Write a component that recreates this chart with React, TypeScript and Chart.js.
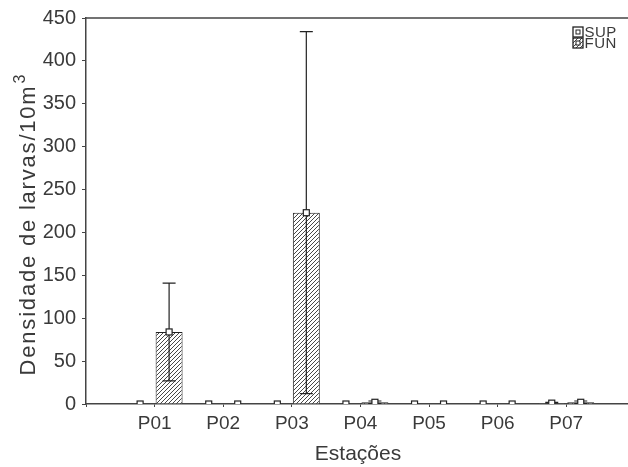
import { useEffect, useRef } from 'react';
import { Chart, registerables } from 'chart.js';

Chart.register(...registerables);

const stations = ['P01', 'P02', 'P03', 'P04', 'P05', 'P06', 'P07'];
const supMeans = [0, 0, 0, 0, 0, 0, 1];
const supErrors = [0, 0, 0, 0, 0, 0, 1];
const funMeans = [84, 0, 223, 2, 0, 0, 2];
const funErrors = [57, 0, 211, 1.5, 0, 0, 1.5];
const yMin = 0;
const yMax = 450;
const yStep = 50;
const seriesNames = ['SUP', 'FUN'];
const yTitle = 'Densidade de larvas/10m';
const yTitleSup = '3';
const xTitle = 'Estações';

const FONT = "'Liberation Sans', Arial, sans-serif";
const TEXT = '#3a3a3a';
const AXIS = '#444';

function makeHatch(): CanvasPattern | string {
  const s = 4;
  const c = document.createElement('canvas');
  c.width = s;
  c.height = s;
  const g = c.getContext('2d');
  if (!g) return '#bbb';
  g.fillStyle = '#fff';
  g.fillRect(0, 0, s, s);
  g.strokeStyle = '#333';
  g.lineWidth = 0.9;
  g.beginPath();
  g.moveTo(0, s);
  g.lineTo(s, 0);
  g.moveTo(-1, 1);
  g.lineTo(1, -1);
  g.moveTo(s - 1, s + 1);
  g.lineTo(s + 1, s - 1);
  g.stroke();
  return g.createPattern(c, 'repeat') || '#bbb';
}

export default function App() {
  const ref = useRef<HTMLCanvasElement>(null);

  useEffect(() => {
    const canvas = ref.current;
    if (!canvas) return;
    const hatch = makeHatch();

    const decor = {
      id: 'decor',
      afterDatasetsDraw(chart: any) {
        const { ctx, chartArea: ca, scales } = chart;
        const y = scales.y;
        ctx.save();
        ctx.beginPath();
        ctx.rect(ca.left, ca.top - 20, ca.right - ca.left, ca.bottom - ca.top + 20);
        ctx.clip();
        // error bars
        chart.data.datasets.forEach((ds: any, di: number) => {
          const meta = chart.getDatasetMeta(di);
          meta.data.forEach((bar: any, i: number) => {
            const m = ds.data[i].y;
            const e = ds.errors[i];
            if (!e) return;
            const yt = y.getPixelForValue(m + e);
            const yb = y.getPixelForValue(Math.max(0, m - e));
            const cw = 6.5;
            ctx.strokeStyle = '#222';
            ctx.lineWidth = 1.2;
            ctx.beginPath();
            ctx.moveTo(bar.x, yt);
            ctx.lineTo(bar.x, yb);
            ctx.moveTo(bar.x - cw, yt);
            ctx.lineTo(bar.x + cw, yt);
            ctx.moveTo(bar.x - cw, yb);
            ctx.lineTo(bar.x + cw, yb);
            ctx.stroke();
          });
        });
        // mean markers
        chart.data.datasets.forEach((_ds: any, di: number) => {
          const meta = chart.getDatasetMeta(di);
          meta.data.forEach((bar: any) => {
            const r = 3;
            ctx.fillStyle = '#fff';
            ctx.strokeStyle = '#222';
            ctx.lineWidth = 1.2;
            ctx.fillRect(bar.x - r, bar.y - r, 2 * r, 2 * r);
            ctx.strokeRect(bar.x - r, bar.y - r, 2 * r, 2 * r);
          });
        });
        ctx.restore();
      },
      afterDraw(chart: any) {
        const { ctx, chartArea: ca } = chart;
        ctx.save();
        // top frame
        ctx.strokeStyle = AXIS;
        ctx.lineWidth = 1.5;
        ctx.beginPath();
        ctx.moveTo(ca.left, ca.top);
        ctx.lineTo(ca.right + 2, ca.top);
        ctx.stroke();

        // legend
        const lx = 573;
        const rows = [27, 38];
        rows.forEach((ty, k) => {
          ctx.fillStyle = k === 0 ? '#fff' : hatch;
          ctx.fillRect(lx, ty, 10, 10);
          ctx.strokeStyle = '#222';
          ctx.lineWidth = 1.3;
          ctx.strokeRect(lx, ty, 10, 10);
          ctx.fillStyle = '#fff';
          ctx.fillRect(lx + 3, ty + 3, 4, 4);
          ctx.lineWidth = 1;
          ctx.strokeRect(lx + 3, ty + 3, 4, 4);
          ctx.fillStyle = TEXT;
          ctx.font = `15px ${FONT}`;
          (ctx as any).letterSpacing = '0.5px';
          ctx.textAlign = 'left';
          ctx.textBaseline = 'alphabetic';
          ctx.fillText(seriesNames[k], lx + 11.5, ty + 10);
        });
        (ctx as any).letterSpacing = '0px';

        // x title
        ctx.fillStyle = TEXT;
        ctx.font = `21px ${FONT}`;
        ctx.textAlign = 'center';
        ctx.textBaseline = 'alphabetic';
        ctx.fillText(xTitle, 358, 460);

        // y title
        (ctx as any).letterSpacing = '1.8px';
        ctx.font = `22px ${FONT}`;
        const w1 = ctx.measureText(yTitle).width;
        (ctx as any).letterSpacing = '0px';
        ctx.font = `16px ${FONT}`;
        const w2 = ctx.measureText(yTitleSup).width;
        const cy = (ca.top + ca.bottom) / 2 + 14;
        ctx.translate(35, cy);
        ctx.rotate(-Math.PI / 2);
        ctx.textAlign = 'left';
        const start = -(w1 + w2 + 1) / 2;
        (ctx as any).letterSpacing = '1.8px';
        ctx.font = `22px ${FONT}`;
        ctx.fillText(yTitle, start, 0);
        (ctx as any).letterSpacing = '0px';
        ctx.font = `16px ${FONT}`;
        ctx.fillText(yTitleSup, start + w1 + 1, -10);
        ctx.restore();
      },
    };

    const chart = new Chart(canvas, {
      type: 'bar',
      data: {
        datasets: [
          {
            label: seriesNames[0],
            data: supMeans.map((v, i) => ({ x: i + 1, y: v })),
            errors: supErrors,
            backgroundColor: '#fff',
            borderColor: '#222',
            borderWidth: 1,
          } as any,
          {
            label: seriesNames[1],
            data: funMeans.map((v, i) => ({ x: i + 1, y: v })),
            errors: funErrors,
            backgroundColor: hatch,
            borderColor: '#222',
            borderWidth: 1,
          } as any,
        ],
      },
      options: {
        responsive: false,
        animation: false,
        devicePixelRatio: 1,
        categoryPercentage: 0.845,
        barPercentage: 0.93,
        layout: { padding: { top: 18, right: 0, left: 0, bottom: 0 } },
        plugins: {
          legend: { display: false },
          tooltip: { enabled: false },
        },
        scales: {
          x: {
            type: 'linear',
            min: 0,
            max: 7.9,
            offset: false,
            afterFit: (s: any) => {
              s.height = 63;
            },
            grid: {
              offset: false,
              drawOnChartArea: false,
              drawTicks: true,
              tickLength: 3,
              color: AXIS,
              lineWidth: 1,
            },
            border: { display: true, color: AXIS, width: 1.5 },
            ticks: {
              stepSize: 1,
              includeBounds: false,
              autoSkip: false,
              maxRotation: 0,
              padding: 5,
              color: TEXT,
              font: { family: FONT, size: 19 },
              callback: (v: any) => (Number.isInteger(v) && v >= 1 && v <= stations.length ? stations[v - 1] : ''),
            },
          },
          y: {
            min: yMin,
            max: yMax,
            afterFit: (s: any) => {
              s.width = 86;
            },
            grid: {
              drawOnChartArea: false,
              drawTicks: true,
              tickLength: 4,
              color: AXIS,
              lineWidth: 1,
            },
            border: { display: true, color: AXIS, width: 1.5 },
            ticks: {
              stepSize: yStep,
              padding: 6,
              color: TEXT,
              font: { family: FONT, size: 20 },
            },
          },
        },
      } as any,
      plugins: [decor],
    });
    return () => chart.destroy();
  }, []);

  return (
    <div style={{ position: 'absolute', left: 0, top: 0, width: 628, height: 467, background: '#fff' }}>
      <canvas ref={ref} width={628} height={467} style={{ display: 'block', width: 628, height: 467 }} />
    </div>
  );
}
